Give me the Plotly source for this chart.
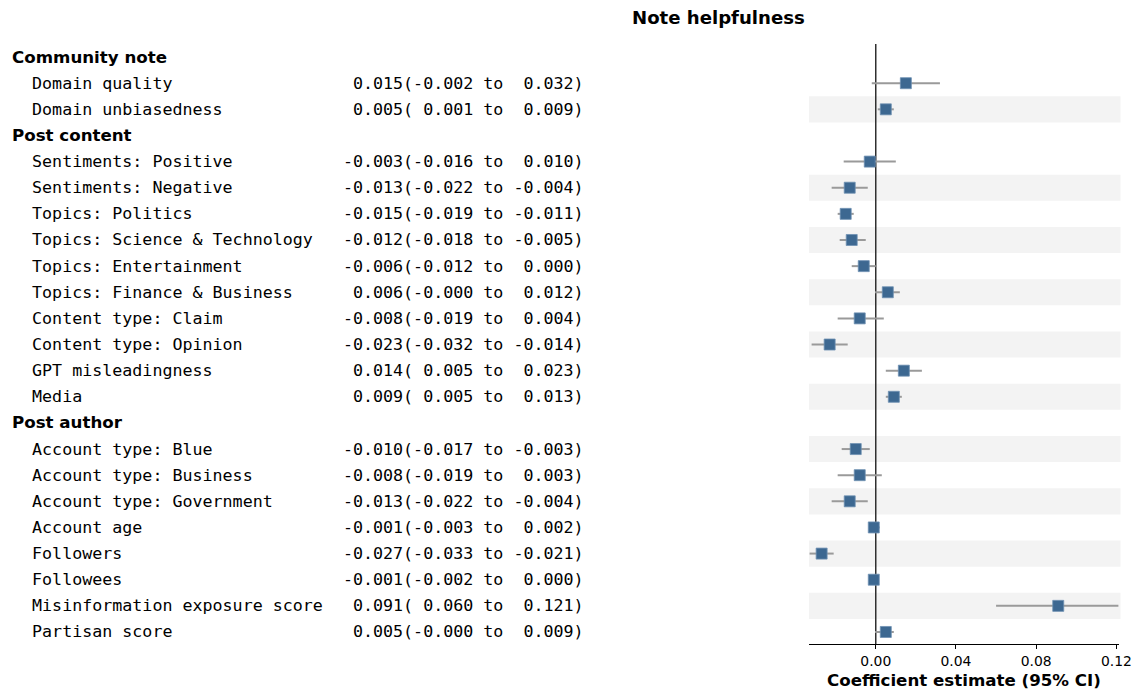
import plotly.graph_objects as go

W, H = 1140, 692

groups = ["Community note", "Community note",
          "Post content", "Post content", "Post content", "Post content", "Post content",
          "Post content", "Post content", "Post content", "Post content", "Post content",
          "Post author", "Post author", "Post author", "Post author", "Post author",
          "Post author", "Post author", "Post author"]
variables = ["Domain quality", "Domain unbiasedness",
             "Sentiments: Positive", "Sentiments: Negative", "Topics: Politics",
             "Topics: Science & Technology", "Topics: Entertainment", "Topics: Finance & Business",
             "Content type: Claim", "Content type: Opinion", "GPT misleadingness", "Media",
             "Account type: Blue", "Account type: Business", "Account type: Government",
             "Account age", "Followers", "Followees", "Misinformation exposure score",
             "Partisan score"]
estimate = [0.015, 0.005,
            -0.003, -0.013, -0.015, -0.012, -0.006, 0.006, -0.008, -0.023, 0.014, 0.009,
            -0.010, -0.008, -0.013, -0.001, -0.027, -0.001, 0.091, 0.005]
ci_low = [-0.002, 0.001,
          -0.016, -0.022, -0.019, -0.018, -0.012, -0.0004, -0.019, -0.032, 0.005, 0.005,
          -0.017, -0.019, -0.022, -0.003, -0.033, -0.002, 0.060, -0.0004]
ci_high = [0.032, 0.009,
           0.010, -0.004, -0.011, -0.005, 0.000, 0.012, 0.004, -0.014, 0.023, 0.013,
           -0.003, 0.003, -0.004, 0.002, -0.021, 0.000, 0.121, 0.009]
shaded_rows = [2, 5, 7, 9, 11, 13, 15, 17, 19, 21]
x_ticks = [0.0, 0.04, 0.08, 0.12]
x_tick_labels = ["0.00", "0.04", "0.08", "0.12"]

# build rows (headers + items)
rows = []  # (kind, text, idx)
prev = None
for i, (g, v) in enumerate(zip(groups, variables)):
    if g != prev:
        rows.append(("header", g, None))
        prev = g
    rows.append(("item", v, i))

item_y = [None] * len(variables)
for r, (kind, text, idx) in enumerate(rows):
    if kind == "item":
        item_y[idx] = r

# plot-area geometry in pixels
L, R = 809.0, 1119.5
T, B = 44.0, 644.0
PW, PH = R - L, B - T


def px(xp):
    return (xp - L) / PW


def py(yp):
    return (B - yp) / PH


NB = "\u00a0"
mono = "DejaVu Sans Mono"
sans = "DejaVu Sans"
FS = 16.67

fig = go.Figure()

fig.add_trace(go.Scatter(
    x=estimate, y=item_y, mode="markers",
    marker=dict(symbol="square", size=11, color="#3d6891",
                line=dict(width=0.8, color="#6e90b2")),
    error_x=dict(type="data", symmetric=False,
                 array=[h - e for h, e in zip(ci_high, estimate)],
                 arrayminus=[e - l for e, l in zip(estimate, ci_low)],
                 color="#9a9a9a", thickness=2, width=0),
    showlegend=False, hoverinfo="skip", cliponaxis=True,
))

shapes = []
for r in shaded_rows:
    shapes.append(dict(type="rect", xref="paper", yref="y",
                       x0=0, x1=px(1121), y0=r - 0.5, y1=r + 0.5,
                       fillcolor="#f3f3f3", line=dict(width=0), layer="below"))
shapes.append(dict(type="line", xref="x", yref="paper", x0=0, x1=0, y0=0, y1=1,
                   line=dict(color="#222222", width=1.4), layer="below"))

annotations = []
for r, (kind, text, idx) in enumerate(rows):
    if kind == "header":
        annotations.append(dict(x=px(9), y=r, xref="paper", yref="y",
                                xanchor="left", yanchor="middle", showarrow=False,
                                text="<b>" + text + "</b>",
                                font=dict(family=sans, size=FS, color="black")))
    else:
        e, lo, hi = estimate[idx], ci_low[idx], ci_high[idx]
        line = "  " + text.ljust(31) + f"{e:6.3f}({lo:6.3f} to {hi:6.3f})"
        annotations.append(dict(x=px(9), y=r, xref="paper", yref="y",
                                xanchor="left", yanchor="middle", showarrow=False,
                                text=line.replace(" ", NB),
                                font=dict(family=mono, size=FS, color="black")))

annotations.append(dict(x=px(718), y=py(17), xref="paper", yref="paper",
                        xanchor="center", yanchor="middle", showarrow=False,
                        text="<b>Note helpfulness</b>",
                        font=dict(family=sans, size=18.1, color="black")))
annotations.append(dict(x=px(964.5), y=py(680), xref="paper", yref="paper",
                        xanchor="center", yanchor="middle", showarrow=False,
                        text="<b>Coefficient estimate (95% CI)</b>",
                        font=dict(family=sans, size=FS, color="black")))

fig.update_layout(
    width=W, height=H,
    margin=dict(l=L, r=W - R, t=T, b=H - B, autoexpand=False),
    paper_bgcolor="white", plot_bgcolor="rgba(0,0,0,0)",
    shapes=shapes, annotations=annotations,
    xaxis=dict(range=[-0.0333, 0.1213], automargin=False,
               showgrid=False, zeroline=False, showline=True, linecolor="black",
               linewidth=1.2, ticks="outside", ticklen=4, tickwidth=1, tickcolor="black",
               tickvals=x_ticks, ticktext=x_tick_labels,
               tickfont=dict(family=sans, size=13.9, color="black")),
    yaxis=dict(range=[22.46, -0.5], automargin=False, showgrid=False, zeroline=False,
               showline=False, showticklabels=False, ticks=""),
    font=dict(family=sans),
)

fig.write_html("out.html")
